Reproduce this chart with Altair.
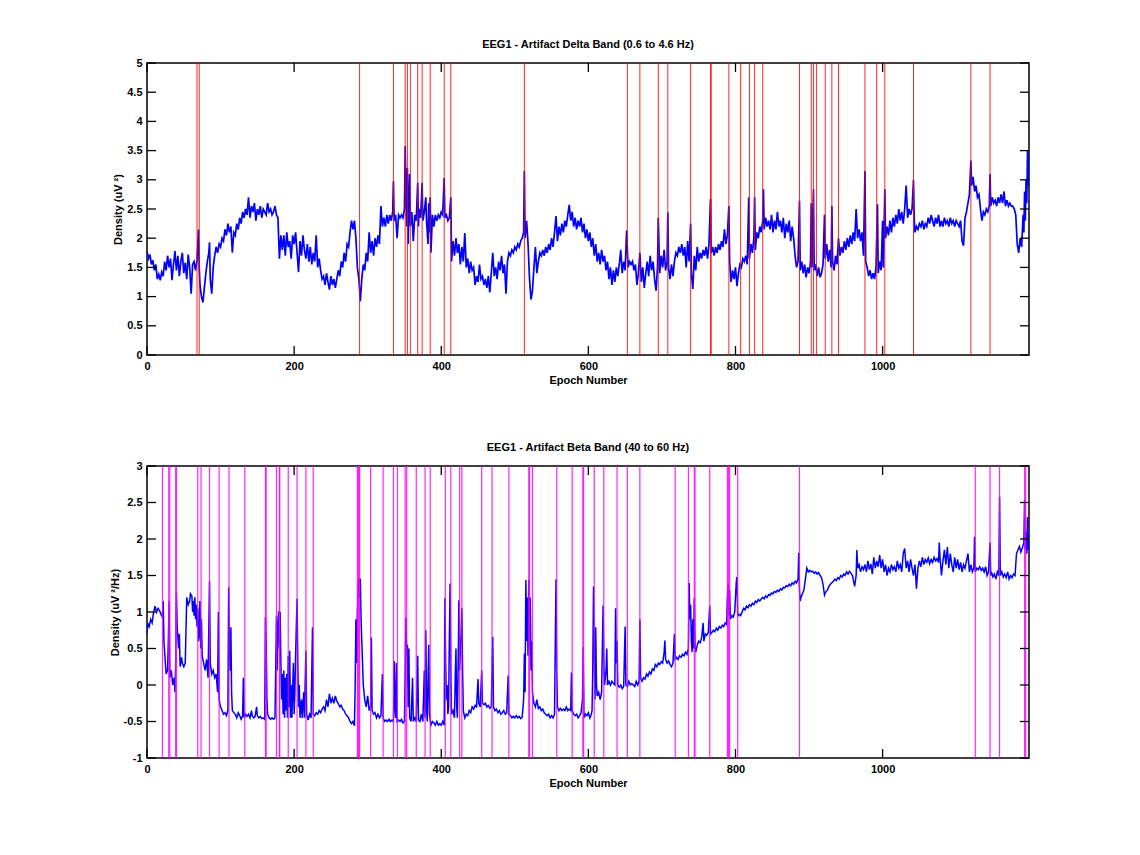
import altair as alt
import pandas as pd

FONT = "Liberation Sans"

x_ticks = [0, 200, 400, 600, 800, 1000]
delta_y_ticks = [0, 0.5, 1, 1.5, 2, 2.5, 3, 3.5, 4, 4.5, 5]
beta_y_ticks = [-1, -0.5, 0, 0.5, 1, 1.5, 2, 2.5, 3]

delta_title = "EEG1 - Artifact Delta Band (0.6 to 4.6 Hz)"
beta_title = "EEG1 - Artifact Beta Band (40 to 60 Hz)"
delta_ytitle = "Density (uV \u00b2)"
beta_ytitle = "Density (uV \u00b2/Hz)"
x_title = "Epoch Number"

delta_artifacts = [68, 71, 289, 335, 351, 354, 358, 368, 374, 385, 404, 413, 513,
                   653, 670, 695, 708, 739, 766, 767, 791, 807, 819, 826, 837, 887,
                   903, 906, 910, 922, 931, 940, 976, 992, 1003, 1042, 1120, 1146]

beta_artifacts = [21, 29.5, 31, 39, 40, 69, 73.5, 85, 98, 111.5, 133, 161, 162, 176,
                  180, 180.5, 192, 204, 216, 226, 286, 287, 288, 289, 304, 321, 335,
                  340.5, 351, 353, 366, 378, 385, 405.5, 413, 425, 428, 455, 469, 492,
                  519, 520, 524, 557, 578, 592.5, 593.5, 608, 621, 639, 653, 670, 718,
                  736, 744, 745, 765, 789, 790.5, 792, 803, 887, 1126, 1146, 1159,
                  1193, 1194.5]

delta_points = [
    (0, 1.78), (2, 1.65), (4, 1.72), (6, 1.55), (8, 1.62), (10, 1.45), (12, 1.55), (14, 1.3),
    (16, 1.38), (18, 1.28), (20, 1.42), (22, 1.35), (24, 1.6), (26, 1.45), (28, 1.7), (30, 1.5),
    (32, 1.65), (34, 1.28), (36, 1.55), (38, 1.78), (40, 1.45), (42, 1.7), (44, 1.35), (46, 1.6),
    (48, 1.75), (50, 1.4), (52, 1.58), (54, 1.3), (56, 1.72), (58, 1.5), (60, 1.05), (62, 1.55),
    (64, 1.6), (66, 1.45), (68, 1.62), (70, 2.15), (71, 1.5), (72, 1.2), (74, 1.0), (76, 0.9),
    (78, 1.15), (80, 1.4), (82, 1.6), (84, 1.75), (85, 1.93), (86, 1.3), (88, 1.05), (90, 1.5),
    (92, 1.7), (94, 1.85), (96, 1.75), (98, 1.9), (100, 1.85), (102, 2.0), (104, 1.95), (106, 2.15),
    (108, 2.05), (110, 2.25), (112, 2.1), (114, 2.2), (116, 1.75), (118, 2.1), (120, 2.05), (122, 2.25),
    (124, 2.15), (126, 2.35), (128, 2.25), (130, 2.45), (132, 2.35), (134, 2.5), (136, 2.4), (138, 2.7),
    (140, 2.35), (142, 2.55), (144, 2.45), (146, 2.6), (148, 2.3), (150, 2.5), (152, 2.4), (154, 2.55),
    (156, 2.35), (158, 2.5), (160, 2.45), (162, 2.4), (164, 2.6), (166, 2.45), (168, 2.5), (170, 2.4),
    (172, 2.45), (174, 2.55), (176, 2.4), (178, 2.35), (180, 1.65), (182, 2.05), (184, 1.8), (186, 2.05),
    (188, 1.7), (190, 2.1), (192, 1.85), (194, 1.95), (196, 1.65), (198, 2.05), (200, 1.9), (202, 2.1),
    (204, 1.75), (206, 1.42), (208, 1.95), (210, 1.7), (212, 2.05), (214, 1.8), (216, 1.65), (218, 1.9),
    (220, 1.6), (222, 1.85), (224, 1.55), (226, 1.75), (228, 1.6), (230, 2.05), (232, 1.5), (234, 1.65),
    (236, 1.45), (238, 1.3), (240, 1.35), (242, 1.2), (244, 1.4), (246, 1.25), (248, 1.12), (250, 1.35),
    (252, 1.2), (254, 1.3), (256, 1.15), (258, 1.3), (260, 1.45), (262, 1.35), (264, 1.6), (266, 1.5),
    (268, 1.75), (270, 1.6), (272, 1.9), (274, 1.85), (276, 2.1), (278, 2.3), (280, 2.15), (282, 2.3),
    (284, 2.0), (286, 1.5), (288, 1.3), (290, 0.92), (292, 1.3), (294, 1.55), (296, 1.45), (298, 1.75),
    (300, 1.6), (302, 2.1), (304, 1.75), (306, 1.95), (308, 1.7), (310, 2.0), (312, 1.85), (314, 2.05),
    (316, 1.9), (318, 2.55), (320, 2.2), (322, 2.35), (324, 2.2), (326, 2.4), (328, 2.25), (330, 2.4),
    (332, 2.3), (334, 2.45), (335, 2.98), (336, 2.3), (338, 2.4), (340, 2.0), (342, 2.4), (344, 2.35),
    (346, 2.4), (348, 2.35), (350, 2.5), (351, 3.58), (352, 2.8), (353, 2.2), (354, 3.2), (355, 1.9),
    (356, 2.6), (357, 3.1), (358, 2.2), (360, 2.45), (362, 1.95), (364, 2.4), (366, 2.3), (368, 2.95),
    (369, 2.2), (370, 2.5), (372, 2.35), (374, 2.95), (375, 2.3), (377, 2.45), (379, 2.7), (380, 2.3),
    (382, 1.9), (383, 2.6), (384, 2.1), (385, 2.7), (386, 1.75), (388, 2.4), (390, 2.2), (392, 2.4),
    (394, 2.3), (396, 2.4), (398, 2.35), (400, 2.45), (402, 2.4), (404, 3.03), (405, 2.35), (407, 2.4),
    (409, 2.3), (411, 2.35), (413, 2.7), (414, 1.6), (416, 1.95), (418, 1.7), (420, 2.0), (422, 1.75),
    (424, 1.9), (426, 1.55), (428, 1.85), (430, 1.6), (432, 2.09), (434, 1.5), (436, 1.65), (438, 1.4),
    (440, 1.6), (442, 1.45), (444, 1.5), (446, 1.2), (448, 1.35), (450, 1.25), (452, 1.55), (454, 1.3),
    (456, 1.35), (458, 1.2), (460, 1.3), (462, 1.15), (464, 1.35), (466, 1.07), (468, 1.4), (470, 1.75),
    (472, 1.35), (474, 1.5), (476, 1.3), (478, 1.6), (480, 1.45), (482, 1.7), (484, 1.4), (486, 1.55),
    (488, 1.05), (490, 1.6), (492, 1.75), (494, 1.7), (496, 1.8), (498, 1.75), (500, 1.85), (502, 1.8),
    (504, 1.9), (506, 1.85), (508, 1.95), (510, 2.0), (512, 2.1), (513, 3.15), (514, 2.0), (516, 2.3),
    (518, 1.9), (520, 1.3), (522, 0.95), (524, 1.1), (526, 1.5), (528, 1.85), (530, 1.4), (532, 1.6),
    (534, 1.75), (536, 1.7), (538, 1.8), (540, 1.7), (542, 1.85), (544, 1.75), (546, 1.9), (548, 1.8),
    (550, 2.0), (552, 1.85), (554, 2.1), (556, 2.38), (558, 1.95), (560, 2.2), (562, 2.05), (564, 2.25),
    (566, 2.1), (568, 2.3), (570, 2.2), (572, 2.4), (574, 2.57), (576, 2.3), (578, 2.45), (580, 2.2),
    (582, 2.35), (584, 2.15), (586, 2.3), (588, 2.2), (590, 2.35), (592, 2.1), (594, 2.25), (596, 2.0),
    (598, 2.15), (600, 1.95), (602, 2.1), (604, 1.85), (606, 2.0), (608, 1.7), (610, 1.9), (612, 1.6),
    (614, 1.75), (616, 1.55), (618, 1.8), (620, 1.6), (622, 1.7), (624, 1.45), (626, 1.6), (628, 1.3),
    (630, 1.5), (632, 1.2), (634, 1.45), (636, 1.25), (638, 1.5), (640, 1.35), (642, 1.55), (644, 1.8),
    (646, 1.4), (648, 1.6), (650, 1.45), (652, 2.13), (654, 1.5), (656, 1.6), (658, 1.55), (660, 1.6),
    (662, 1.45), (664, 1.55), (666, 1.2), (668, 1.4), (670, 1.75), (672, 1.25), (674, 1.5), (676, 1.15),
    (678, 1.4), (680, 1.6), (682, 1.35), (684, 1.7), (686, 1.45), (688, 1.6), (690, 1.3), (692, 1.1),
    (694, 1.5), (695, 2.35), (697, 1.4), (699, 1.7), (701, 1.5), (703, 1.8), (705, 1.45), (707, 1.6),
    (708, 2.44), (709, 1.5), (711, 1.3), (713, 1.55), (715, 1.35), (717, 1.6), (719, 1.75), (721, 1.7),
    (723, 1.85), (725, 1.75), (727, 1.9), (729, 1.7), (731, 1.85), (733, 1.5), (735, 1.95), (737, 1.6),
    (739, 2.25), (740, 1.4), (742, 1.13), (744, 1.7), (746, 1.45), (748, 1.85), (750, 1.6), (752, 1.75),
    (754, 1.65), (756, 1.8), (758, 1.7), (760, 1.85), (762, 1.65), (764, 1.9), (766, 2.67), (767, 1.75),
    (769, 1.85), (771, 1.7), (773, 1.85), (775, 1.75), (777, 1.9), (779, 1.8), (781, 1.95), (783, 1.85),
    (785, 2.15), (787, 1.9), (789, 2.05), (791, 2.55), (792, 1.6), (794, 1.25), (796, 1.45), (798, 1.3),
    (800, 1.5), (802, 1.18), (804, 1.4), (806, 1.55), (808, 1.5), (810, 1.65), (812, 1.6), (814, 1.7),
    (816, 1.55), (818, 2.7), (819, 1.65), (821, 1.9), (823, 1.75), (825, 2.0), (826, 2.7), (827, 1.8),
    (829, 2.1), (831, 2.0), (833, 2.2), (835, 2.1), (837, 2.3), (838, 2.84), (839, 2.15), (841, 2.35),
    (843, 2.2), (845, 2.3), (847, 2.15), (849, 2.4), (851, 2.1), (853, 2.3), (855, 2.15), (857, 2.45),
    (859, 2.2), (861, 2.3), (863, 2.1), (865, 2.35), (867, 2.0), (869, 2.25), (871, 2.1), (873, 2.3),
    (875, 1.95), (877, 2.2), (879, 2.0), (881, 1.7), (883, 1.5), (885, 1.6), (887, 2.64), (888, 1.45),
    (890, 1.6), (892, 1.4), (894, 1.55), (896, 1.33), (898, 1.5), (900, 1.4), (902, 1.6), (903, 2.6),
    (904, 1.5), (906, 2.84), (907, 1.45), (909, 1.55), (911, 1.35), (913, 1.5), (915, 1.33), (917, 1.4),
    (919, 1.55), (921, 2.4), (922, 1.65), (924, 1.9), (926, 1.6), (928, 1.8), (930, 1.5), (931, 2.55),
    (932, 1.6), (934, 1.45), (936, 1.7), (938, 1.55), (940, 2.0), (942, 1.7), (944, 1.85), (946, 1.75),
    (948, 1.95), (950, 1.8), (952, 2.0), (954, 1.85), (956, 2.05), (958, 1.9), (960, 2.1), (962, 1.95),
    (964, 2.5), (966, 2.0), (968, 2.15), (970, 1.95), (972, 2.1), (974, 1.7), (976, 3.15), (977, 1.6),
    (979, 1.5), (981, 1.35), (983, 1.45), (985, 1.3), (987, 1.4), (989, 1.3), (991, 1.5), (993, 2.58),
    (994, 1.4), (996, 1.6), (998, 1.45), (1000, 2.3), (1001, 1.5), (1003, 2.84), (1004, 2.0), (1006, 2.2),
    (1008, 2.05), (1010, 2.3), (1012, 2.1), (1014, 2.35), (1016, 2.2), (1018, 2.4), (1020, 2.25), (1022, 2.5),
    (1024, 2.3), (1026, 2.45), (1028, 2.25), (1030, 2.5), (1032, 2.9), (1034, 2.35), (1036, 2.5), (1038, 2.4),
    (1040, 2.5), (1042, 3.0), (1043, 2.3), (1044, 2.1), (1046, 2.2), (1048, 2.15), (1050, 2.25), (1052, 2.2),
    (1054, 2.3), (1056, 2.15), (1058, 2.25), (1060, 2.2), (1062, 2.35), (1064, 2.25), (1066, 2.4), (1068, 2.3),
    (1070, 2.2), (1072, 2.35), (1074, 2.25), (1076, 2.4), (1078, 2.2), (1080, 2.3), (1082, 2.2), (1084, 2.35),
    (1086, 2.25), (1088, 2.3), (1090, 2.2), (1092, 2.35), (1094, 2.25), (1096, 2.3), (1098, 2.2), (1100, 2.3),
    (1102, 2.25), (1104, 2.2), (1106, 2.3), (1108, 1.95), (1110, 1.87), (1112, 2.35), (1114, 2.45), (1116, 2.6),
    (1118, 2.75), (1120, 3.33), (1121, 2.9), (1123, 3.05), (1125, 2.8), (1127, 2.9), (1129, 2.7), (1131, 2.75),
    (1133, 2.5), (1135, 2.3), (1137, 2.45), (1139, 2.4), (1141, 2.5), (1143, 2.45), (1145, 2.55), (1146, 3.1),
    (1147, 2.55), (1149, 2.7), (1151, 2.6), (1153, 2.65), (1155, 2.55), (1157, 2.7), (1159, 2.6), (1161, 2.75),
    (1163, 2.6), (1165, 2.8), (1167, 2.55), (1169, 2.65), (1171, 2.55), (1173, 2.6), (1175, 2.55), (1177, 2.55),
    (1179, 2.5), (1181, 2.4), (1183, 1.9), (1185, 1.75), (1187, 2.0), (1189, 1.85), (1191, 2.4), (1192, 2.1),
    (1193, 2.8), (1194, 2.3), (1195, 3.0), (1196, 2.6), (1197, 3.5), (1198, 2.9), (1199, 3.45),
]

beta_points = [
    (0, 0.7), (1, 0.85), (3, 0.8), (5, 0.9), (7, 0.85), (9, 1.0), (11, 1.08), (13, 1.0), (15, 1.05),
    (17, 1.02), (19, 0.97), (21, 0.93), (22, 1.15), (23, 0.6), (25, 0.3), (26, 0.15), (28, 0.2), (29, 0.6),
    (30, 1.15), (31, 0.1), (33, 0.2), (35, 0.0), (37, 0.1), (38, -0.1), (39, 0.3), (40, 1.27), (41, 0.8),
    (43, 0.5), (44, 0.7), (45, 0.25), (47, 0.38), (48, 0.3), (50, 0.25), (52, 0.3), (54, 1.2), (56, 1.1),
    (58, 1.15), (59, 1.25), (61, 1.22), (62, 1.0), (63, 1.15), (64, 0.95), (65, 1.2), (66, 0.9), (67, 1.1),
    (68, 0.8), (69, 1.05), (70, 0.6), (71, 0.7), (72, 1.15), (73, 0.5), (74, 0.9), (75, 0.4), (77, 0.3),
    (79, 0.2), (81, 0.35), (83, 0.1), (85, 1.42), (86, 0.3), (88, 0.15), (90, 0.2), (92, 0.1), (94, 0.15),
    (96, -0.1), (97, 1.0), (98, -0.2), (100, -0.3), (102, -0.35), (104, -0.4), (106, -0.38), (108, -0.42),
    (110, -0.35), (111, 1.34), (112, 0.5), (113, 0.2), (114, 0.79), (115, -0.1), (116, -0.35), (118, -0.38),
    (120, -0.4), (122, -0.45), (124, -0.38), (126, -0.42), (128, -0.47), (130, -0.42), (131, 0.1), (132, -0.45),
    (134, -0.4), (136, -0.43), (138, -0.4), (140, -0.45), (142, -0.35), (143, -0.42), (145, -0.45), (147, -0.43),
    (149, -0.3), (150, -0.42), (152, -0.45), (154, -0.43), (156, -0.46), (158, -0.45), (160, -0.47), (161, 0.93),
    (162, 0.6), (163, -0.2), (164, -0.4), (166, -0.45), (168, -0.47), (170, -0.45), (172, -0.47), (174, -0.45),
    (176, 0.95), (177, 0.2), (178, 0.8), (179, 1.01), (180, 0.5), (181, 1.0), (182, 0.3), (183, -0.2),
    (184, 0.15), (185, -0.4), (186, 0.2), (187, -0.45), (188, 0.1), (189, -0.35), (190, 0.15), (191, -0.45),
    (192, 0.4), (193, -0.3), (194, 0.47), (195, -0.45), (196, 0.0), (197, -0.45), (199, 0.3), (200, -0.4),
    (201, -0.1), (202, 0.4), (203, 0.8), (204, 1.18), (205, 0.3), (206, -0.3), (207, 0.0), (208, -0.45),
    (210, -0.2), (211, -0.45), (213, -0.1), (214, -0.45), (216, 0.47), (217, -0.4), (219, -0.48), (221, -0.4),
    (223, -0.45), (225, 0.79), (226, -0.4), (228, -0.42), (230, -0.38), (232, -0.4), (234, -0.35), (236, -0.38),
    (238, -0.33), (240, -0.3), (242, -0.35), (244, -0.2), (246, -0.3), (248, -0.12), (250, -0.25), (252, -0.18),
    (254, -0.25), (256, -0.15), (258, -0.22), (260, -0.25), (262, -0.3), (264, -0.28), (266, -0.33), (268, -0.35),
    (270, -0.4), (272, -0.42), (274, -0.45), (276, -0.5), (278, -0.53), (280, -0.5), (282, -0.56), (283, 0.0),
    (284, 0.9), (285, 0.3), (286, 0.98), (287, 1.3), (288, 1.45), (289, 1.2), (290, 1.46), (291, 0.9),
    (292, 0.6), (293, 0.3), (294, 0.0), (296, -0.2), (298, -0.3), (300, -0.15), (302, -0.35), (304, -0.3),
    (305, 0.65), (306, -0.35), (308, -0.4), (310, -0.38), (312, -0.45), (314, -0.4), (316, -0.45), (318, -0.42),
    (320, 0.15), (321, -0.45), (323, -0.5), (325, -0.48), (327, -0.5), (329, -0.47), (331, -0.5), (333, -0.48),
    (335, -0.5), (336, 0.33), (337, -0.3), (338, -0.45), (339, 0.3), (340, -0.5), (342, -0.48), (344, -0.5),
    (346, -0.47), (348, -0.52), (350, -0.5), (352, 0.92), (353, 0.4), (354, 0.55), (355, -0.3), (356, 0.5),
    (357, -0.45), (359, -0.5), (361, 0.1), (362, -0.5), (364, -0.45), (366, -0.5), (368, 0.4), (369, -0.48),
    (371, -0.5), (373, -0.4), (375, -0.5), (377, 0.2), (378, -0.45), (379, 0.75), (380, -0.3), (381, -0.5),
    (383, 0.55), (384, -0.4), (386, -0.55), (388, -0.5), (390, -0.52), (392, -0.55), (394, -0.5), (396, -0.55),
    (398, -0.53), (400, -0.55), (402, -0.5), (404, -0.55), (405, 1.19), (406, 0.3), (407, -0.2), (408, 0.0),
    (409, -0.4), (410, -0.3), (411, 0.6), (412, 1.39), (413, 0.2), (414, -0.4), (416, -0.35), (418, -0.45),
    (419, 0.1), (420, 0.5), (421, -0.3), (422, -0.45), (423, 0.3), (424, 1.16), (425, 0.2), (426, 0.5),
    (427, 0.7), (428, 1.05), (429, 0.2), (430, -0.35), (432, -0.45), (434, -0.4), (436, -0.42), (438, -0.35),
    (440, -0.38), (442, -0.3), (444, -0.33), (446, -0.28), (448, -0.3), (450, 0.08), (451, -0.25), (453, -0.3),
    (455, 0.2), (456, -0.25), (458, -0.27), (460, -0.25), (462, -0.3), (464, -0.28), (466, -0.32), (468, -0.3),
    (470, 0.66), (471, -0.3), (473, -0.35), (475, -0.33), (477, -0.38), (479, -0.35), (481, -0.4), (483, -0.38),
    (485, -0.35), (487, -0.4), (489, -0.38), (491, 0.13), (492, -0.4), (494, -0.42), (496, -0.45), (498, -0.43),
    (500, -0.45), (502, -0.42), (504, -0.45), (506, -0.43), (508, -0.46), (510, -0.44), (512, -0.2), (513, 0.43),
    (514, -0.1), (515, 1.44), (516, 0.6), (517, 1.2), (518, 0.4), (519, 1.44), (520, 0.5), (521, 1.2),
    (522, 0.2), (523, 0.6), (524, -0.1), (526, -0.25), (528, -0.3), (530, -0.2), (532, -0.32), (534, -0.3),
    (536, -0.35), (538, -0.33), (540, -0.38), (542, -0.4), (544, -0.42), (546, -0.4), (548, -0.45), (550, -0.42),
    (552, -0.45), (554, -0.4), (556, 1.45), (557, 0.2), (558, -0.3), (560, -0.35), (562, -0.32), (564, -0.35),
    (566, -0.33), (568, -0.35), (570, -0.3), (572, -0.35), (574, -0.33), (576, -0.35), (577, 0.17), (578, -0.35),
    (580, -0.4), (582, -0.42), (584, -0.4), (586, -0.45), (588, -0.42), (590, -0.38), (592, -0.2), (593, 0.52),
    (594, -0.45), (596, -0.4), (598, -0.42), (600, -0.38), (602, -0.45), (604, -0.4), (605, -0.35), (606, 0.2),
    (607, 1.35), (608, 0.5), (609, -0.2), (610, 0.79), (611, 0.0), (612, -0.15), (614, -0.1), (616, -0.2),
    (618, -0.1), (620, 1.09), (621, 0.3), (622, 0.0), (624, 0.2), (625, 0.5), (626, 0.0), (628, 0.05),
    (630, 0.0), (632, 0.05), (634, 0.02), (636, 0.0), (637, 1.05), (638, 0.3), (639, 0.6), (640, 0.0),
    (642, -0.03), (644, 0.0), (646, -0.05), (648, -0.02), (650, 0.8), (651, 0.0), (653, -0.02), (655, 0.05),
    (657, 0.0), (659, 0.02), (661, 0.0), (663, -0.02), (665, 0.05), (667, 0.0), (669, 0.05), (670, 0.9),
    (671, 0.1), (673, 0.05), (675, 0.1), (677, 0.08), (679, 0.15), (681, 0.12), (683, 0.18), (685, 0.15),
    (687, 0.22), (689, 0.2), (691, 0.28), (693, 0.25), (695, 0.3), (697, 0.28), (699, 0.32), (701, 0.3),
    (703, 0.45), (704, 0.61), (705, 0.35), (707, 0.3), (709, 0.33), (711, 0.28), (713, 0.25), (715, 0.3),
    (717, 0.7), (718, 0.35), (720, 0.38), (722, 0.35), (724, 0.4), (726, 0.38), (728, 0.42), (730, 0.4),
    (732, 0.45), (734, 0.42), (736, 0.5), (737, 1.4), (738, 0.9), (739, 1.1), (740, 0.6), (741, 0.45),
    (742, 0.9), (743, 0.5), (744, 1.19), (745, 0.5), (746, 0.45), (748, 0.55), (750, 0.6), (752, 0.58),
    (754, 0.65), (756, 0.85), (757, 0.6), (759, 0.7), (761, 0.68), (763, 0.72), (765, 1.09), (766, 0.7),
    (768, 0.72), (770, 0.75), (772, 0.73), (774, 0.78), (776, 0.75), (778, 0.8), (780, 0.78), (782, 0.82),
    (784, 0.8), (786, 0.85), (788, 0.83), (789, 1.2), (790, 1.39), (791, 0.95), (792, 1.3), (793, 0.9),
    (795, 0.95), (797, 0.93), (799, 1.0), (801, 1.4), (802, 1.48), (803, 0.95), (805, 0.97), (807, 0.95),
    (809, 1.0), (811, 1.05), (813, 1.03), (815, 1.08), (817, 1.06), (819, 1.1), (821, 1.08), (823, 1.12),
    (825, 1.1), (827, 1.15), (829, 1.13), (831, 1.17), (833, 1.15), (835, 1.18), (837, 1.2), (839, 1.18),
    (841, 1.22), (843, 1.2), (845, 1.24), (847, 1.23), (849, 1.26), (851, 1.25), (853, 1.28), (855, 1.27),
    (857, 1.3), (859, 1.28), (861, 1.32), (863, 1.3), (865, 1.34), (867, 1.33), (869, 1.36), (871, 1.35),
    (873, 1.38), (875, 1.36), (877, 1.4), (879, 1.38), (881, 1.42), (883, 1.4), (885, 1.45), (886, 1.81),
    (887, 1.3), (888, 1.15), (889, 1.2), (891, 1.25), (893, 1.3), (895, 1.45), (897, 1.6), (899, 1.55),
    (901, 1.57), (903, 1.55), (905, 1.56), (907, 1.53), (909, 1.55), (911, 1.52), (913, 1.54), (915, 1.5),
    (917, 1.47), (919, 1.38), (921, 1.23), (923, 1.28), (925, 1.3), (927, 1.35), (929, 1.38), (931, 1.4),
    (933, 1.42), (935, 1.45), (937, 1.43), (939, 1.47), (941, 1.45), (943, 1.5), (945, 1.48), (947, 1.52),
    (949, 1.5), (951, 1.55), (953, 1.52), (955, 1.56), (957, 1.53), (959, 1.5), (961, 1.4), (962, 1.35),
    (964, 1.5), (965, 1.85), (966, 1.6), (968, 1.65), (970, 1.55), (972, 1.62), (974, 1.58), (976, 1.65),
    (978, 1.55), (980, 1.7), (982, 1.58), (984, 1.66), (986, 1.52), (988, 1.75), (990, 1.6), (992, 1.7),
    (994, 1.62), (996, 1.78), (998, 1.6), (1000, 1.72), (1002, 1.55), (1004, 1.65), (1006, 1.5), (1008, 1.6),
    (1010, 1.55), (1012, 1.65), (1014, 1.58), (1016, 1.62), (1018, 1.55), (1020, 1.7), (1022, 1.6), (1024, 1.65),
    (1026, 1.55), (1028, 1.8), (1030, 1.87), (1032, 1.6), (1034, 1.7), (1036, 1.55), (1038, 1.72), (1040, 1.6),
    (1042, 1.5), (1044, 1.65), (1046, 1.32), (1048, 1.6), (1050, 1.7), (1052, 1.62), (1054, 1.75), (1056, 1.65),
    (1058, 1.72), (1060, 1.68), (1062, 1.74), (1064, 1.66), (1066, 1.72), (1068, 1.68), (1070, 1.75), (1072, 1.7),
    (1074, 1.73), (1076, 1.68), (1077, 1.95), (1078, 1.75), (1080, 1.5), (1082, 1.7), (1084, 1.85), (1086, 1.65),
    (1088, 1.89), (1090, 1.6), (1092, 1.8), (1094, 1.65), (1096, 1.55), (1098, 1.75), (1100, 1.6), (1102, 1.72),
    (1104, 1.58), (1106, 1.68), (1108, 1.55), (1110, 1.65), (1112, 1.6), (1114, 1.7), (1116, 1.8), (1118, 1.55),
    (1120, 1.65), (1122, 1.55), (1124, 1.6), (1125, 2.03), (1126, 1.55), (1128, 1.6), (1130, 1.58), (1132, 1.62),
    (1134, 1.57), (1136, 1.6), (1138, 1.55), (1140, 1.62), (1142, 1.5), (1144, 1.55), (1146, 1.95), (1147, 1.5),
    (1148, 1.55), (1150, 1.48), (1152, 1.52), (1154, 1.45), (1156, 1.55), (1158, 1.5), (1159, 2.58), (1160, 1.5),
    (1162, 1.55), (1164, 1.48), (1166, 1.52), (1168, 1.47), (1170, 1.55), (1172, 1.45), (1174, 1.5), (1176, 1.47),
    (1178, 1.52), (1180, 1.5), (1182, 1.8), (1184, 1.85), (1186, 1.9), (1188, 1.82), (1190, 1.88), (1192, 1.95),
    (1193, 2.54), (1194, 1.85), (1195, 2.1), (1196, 1.8), (1197, 2.3), (1198, 1.85), (1199, 2.0),
]

W, H = 882, 292
TICK = 9


def panel(points, artifacts, yticks, ydomain, title, ytitle, art_color, art_width, line_width):
    line_df = pd.DataFrame(points, columns=["epoch", "density"])
    art_df = pd.DataFrame({"epoch": artifacts})
    xt_df = pd.DataFrame({"epoch": x_ticks})
    yt_df = pd.DataFrame({"density": yticks})

    x = alt.X("epoch:Q",
              scale=alt.Scale(domain=[0, 1199], nice=False, zero=False),
              axis=alt.Axis(values=x_ticks, title=x_title, labelFlush=False,
                            labelOverlap=False, labelExpr="'' + datum.value"))
    y = alt.Y("density:Q",
              scale=alt.Scale(domain=ydomain, nice=False, zero=False),
              axis=alt.Axis(values=yticks, title=ytitle, labelOverlap=False,
                            labelExpr="'' + datum.value"))

    line = alt.Chart(line_df).mark_line(color="#0000ff", strokeWidth=line_width,
                                        clip=True).encode(x=x, y=y)
    arts = alt.Chart(art_df).mark_rule(color=art_color, strokeWidth=art_width,
                                       opacity=0.85).encode(x=x)
    yl = alt.Chart(yt_df).mark_rule(color="black", strokeWidth=1.3).encode(
        y=y, x=alt.value(0), x2=alt.value(TICK))
    yr = alt.Chart(yt_df).mark_rule(color="black", strokeWidth=1.3).encode(
        y=y, x=alt.value(W - TICK), x2=alt.value(W))
    xb = alt.Chart(xt_df).mark_rule(color="black", strokeWidth=1.3).encode(
        x=x, y=alt.value(H - TICK), y2=alt.value(H))
    xt = alt.Chart(xt_df).mark_rule(color="black", strokeWidth=1.3).encode(
        x=x, y=alt.value(0), y2=alt.value(TICK))

    return alt.layer(line, arts, yl, yr, xb, xt).properties(
        width=W, height=H,
        title=alt.TitleParams(text=title, font=FONT, fontSize=11, fontWeight="bold",
                              color="black", anchor="middle", offset=7),
    )


top = panel(delta_points, delta_artifacts, delta_y_ticks, [0, 5], delta_title,
            delta_ytitle, "#ff0000", 1.0, 1.7)
bottom = panel(beta_points, beta_artifacts, beta_y_ticks, [-1, 3], beta_title,
               beta_ytitle, "#ff00ff", 1.2, 1.5)

chart = alt.vconcat(top, bottom, spacing=55).properties(
    padding={"left": 100, "top": 30, "right": 10, "bottom": 10},
    background="white",
).configure_view(
    stroke="black", strokeWidth=1.5
).configure_axis(
    domain=False, ticks=False, grid=False,
    labelFont=FONT, labelFontSize=11, labelFontWeight="bold", labelColor="black",
    titleFont=FONT, titleFontSize=11, titleFontWeight="bold", titleColor="black",
    labelPadding=5, titlePadding=3,
)

chart.save("out.html", embed_options={"renderer": "svg", "actions": False})
